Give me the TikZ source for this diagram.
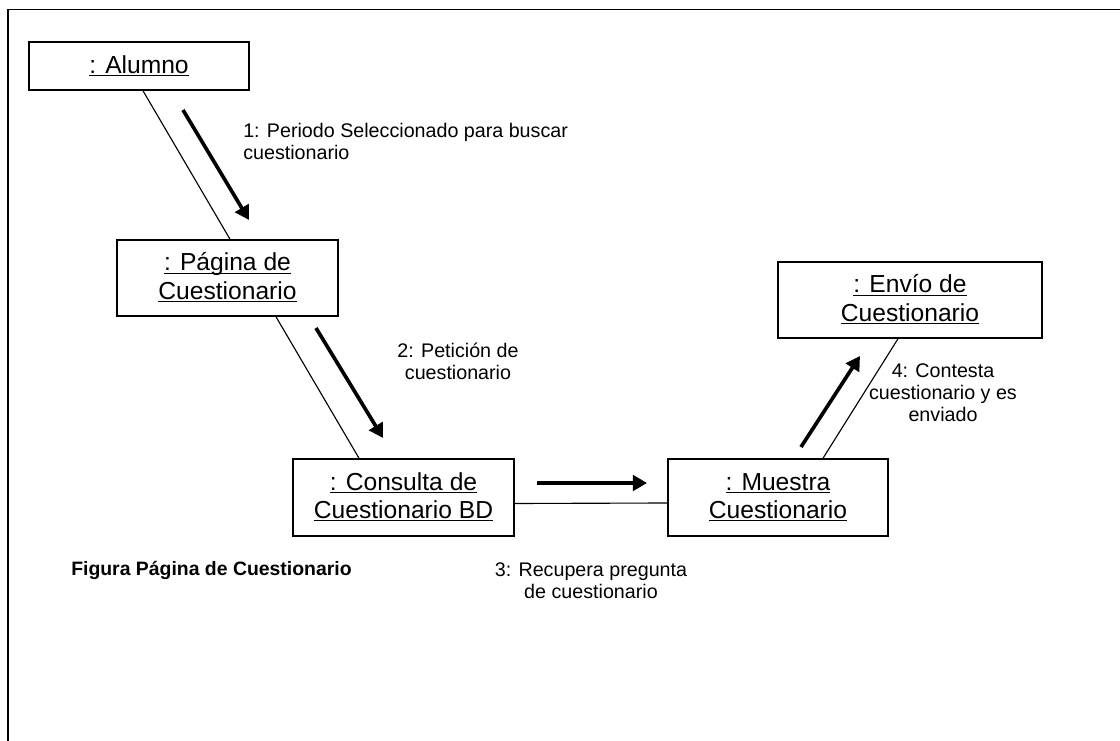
\documentclass[tikz,border=0pt]{standalone}
\usepackage{fontspec}
\setmainfont{Liberation Sans}
\usetikzlibrary{arrows.meta,calc}
\newcommand{\uln}[1]{\underline{\vphantom{A}\smash{#1}}}

\begin{document}
\begin{tikzpicture}[x=0.025cm,y=-0.025cm,
  obj/.style={draw,line width=1.1pt,inner sep=0pt,align=center,font=\fontsize{17.5}{20}\selectfont},
  lbl/.style={inner sep=0pt,font=\fontsize{14}{15.6}\selectfont},
  link/.style={line width=0.8pt},
  msg/.style={line width=2.6pt,-{Triangle[length=10pt,width=11pt]}}]
\useasboundingbox (0,0) rectangle (1120,741);
\draw[line width=1.3pt] (8,741) -- (8,9.5) -- (1120,9.5);
% objetos
\node[obj,minimum width=5.5cm,minimum height=1.2cm] (alumno) at (139,66) {\uln{: Alumno}};
\node[obj,minimum width=5.525cm,minimum height=1.9cm] (pagina) at (227.5,278) {\uln{: Página de}\\\uln{Cuestionario}};
\node[obj,minimum width=5.525cm,minimum height=1.925cm] (consulta) at (403.5,497.5) {\uln{: Consulta de}\\\uln{Cuestionario BD}};
\node[obj,minimum width=5.5cm,minimum height=1.925cm] (muestra) at (778,497.5) {\uln{: Muestra}\\\uln{Cuestionario}};
\node[obj,minimum width=6.6cm,minimum height=1.9cm] (envio) at (910,300) {\uln{: Envío de}\\\uln{Cuestionario}};
% enlaces
\draw[link] ($(alumno.south)+(4,0)$) -- ($(pagina.north)+(2.5,0)$);
\draw[link] ($(pagina.south)+(48.5,0)$) -- ($(consulta.north)+(-44.5,0)$);
\draw[link] ($(consulta.east)+(0,6)$) -- ($(muestra.west)+(0,5.5)$);
\draw[link] ($(muestra.north)+(45,0)$) -- ($(envio.south)+(-12,0)$);
% mensajes
\coordinate (m1a) at (183,110); \coordinate (m1b) at (249,220);
\coordinate (m2a) at (316,328); \coordinate (m2b) at (383,438);
\coordinate (m3a) at (537,483); \coordinate (m3b) at (647,483);
\coordinate (m4a) at (801,447); \coordinate (m4b) at (860,356);
\draw[msg] (m1a) -- (m1b);
\draw[msg] (m2a) -- (m2b);
\draw[msg] (m3a) -- (m3b);
\draw[msg] (m4a) -- (m4b);
% etiquetas
\node[lbl,anchor=west,align=left] (t1) at (243,141) {1: Periodo Seleccionado para buscar\\cuestionario};
\node[lbl,align=center] (t2) at (458,361) {2: Petición de\\cuestionario};
\node[lbl,align=center] (t3) at (591,581) {3: Recupera pregunta\\de cuestionario};
\node[lbl,align=center] (t4) at (943,393) {4: Contesta\\cuestionario y es\\enviado};
\node[lbl,anchor=west,font=\fontsize{13.8}{15.6}\selectfont\bfseries] (fig) at (71,570) {Figura Página de Cuestionario};
\end{tikzpicture}
\end{document}
